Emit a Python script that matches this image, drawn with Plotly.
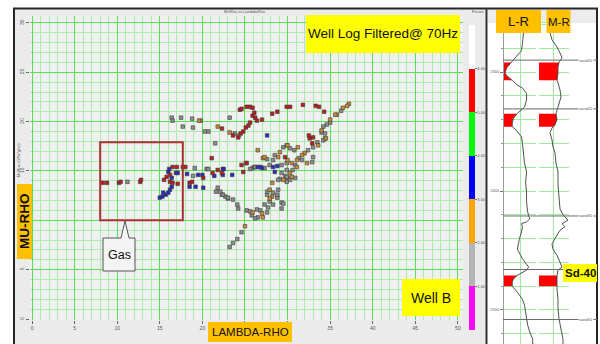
import plotly.graph_objects as go

W, H = 600, 344

# ---------------- Crossplot samples (LambdaRho, MuRho), grouped by facies ----------------
red_lr = [8.3, 8.8, 10.2, 10.4, 12.7, 12.8, 15.5, 15.8, 16.5, 17.0, 17.7, 16.2, 16.2, 16.5, 17.1,
          18.5, 18.8, 20.1, 21.2, 21.8, 22.3, 21.1, 18.0, 22.3, 23.6, 24.2, 24.8, 24.5, 25.1, 25.4,
          25.6, 24.4, 24.6, 25.2, 25.6, 25.9, 26.1, 25.9, 26.2, 26.4, 27.0, 28.2, 28.8, 29.9, 30.3,
          31.8, 33.3, 33.7, 34.3, 32.9, 32.6, 33.0, 32.5, 29.7, 24.6, 24.8, 25.2]
red_mr = [13.8, 13.8, 13.8, 13.9, 13.9, 14.1, 14.1, 14.4, 15.4, 15.4, 15.4, 14.6, 13.9, 13.8, 13.7,
          13.8, 13.9, 14.3, 14.8, 15.1, 14.8, 16.3, 15.4, 19.3, 18.6, 18.4, 19.0, 18.8, 19.4, 19.6,
          19.9, 21.2, 21.3, 21.5, 21.5, 21.4, 20.9, 20.6, 20.4, 20.1, 20.2, 20.8, 21.0, 21.5, 21.5,
          21.7, 21.6, 21.5, 21.0, 17.8, 18.3, 18.4, 18.6, 16.4, 15.6, 14.9, 15.8]

blue_lr = [16.0, 16.1, 16.4, 16.4, 16.2, 16.0, 15.7, 15.3, 15.4, 16.9, 17.1, 15.0, 18.5, 19.2, 20.1,
           18.2, 19.5, 20.0, 21.4, 22.4, 27.6, 28.8, 28.3, 28.5, 26.8, 22.5, 22.4, 23.5, 26.5, 27.0]
blue_mr = [14.9, 15.2, 14.3, 13.4, 13.1, 12.8, 12.6, 12.4, 12.8, 14.8, 14.8, 12.3, 13.4, 13.4, 13.3,
           14.7, 14.6, 14.6, 14.5, 15.2, 18.6, 15.5, 15.4, 14.9, 15.4, 15.2, 14.6, 14.6, 15.4, 15.3]

orange_lr = [19.6, 21.8, 23.2, 24.3, 37.2, 37.0, 36.5, 35.8, 35.6, 35.0, 34.0, 34.5, 33.6, 32.0, 31.7,
             31.1, 32.3, 30.5, 31.2, 30.0, 29.1, 28.9, 30.0, 27.1, 26.5, 27.3, 30.3, 29.5, 30.5, 31.1,
             25.9, 27.0, 27.1, 28.2, 27.9, 28.2, 25.0, 27.9]
orange_mr = [20.1, 19.5, 18.9, 18.6, 21.8, 21.6, 21.4, 20.7, 20.7, 20.2, 19.1, 18.3, 17.6, 16.8, 16.6,
             16.1, 15.8, 15.8, 17.4, 17.6, 16.9, 16.4, 16.1, 16.3, 17.1, 16.4, 14.8, 14.1, 14.4, 15.4,
             10.8, 10.7, 10.3, 12.4, 13.1, 13.8, 9.4, 12.2]

gray_lr = [11.2, 18.9, 20.5, 21.6, 21.8, 22.3, 22.7, 23.0, 21.5, 19.1, 20.7, 16.4, 16.5, 17.5, 17.7,
           18.8, 18.9, 19.8, 20.3, 20.7, 23.2, 23.8, 36.3, 35.0, 34.6, 34.2, 34.0, 34.4, 34.4, 34.2,
           33.5, 33.0, 32.4, 31.3, 31.7, 32.9, 33.0, 30.9, 30.8, 30.3, 29.5, 29.9, 28.5, 28.3, 29.9,
           29.3, 27.9, 27.3, 25.9, 27.6, 25.1, 25.6, 26.1, 26.2, 29.9, 29.7, 30.0, 29.9, 30.3, 29.3,
           29.1, 30.6, 30.9, 22.1, 22.4, 23.0, 23.6, 24.1, 24.2, 25.2, 25.6, 26.4, 26.8, 26.5, 26.2,
           25.8, 27.6, 27.7, 27.9, 28.3, 27.3, 28.3, 28.8, 28.9, 29.3, 29.3, 28.9, 23.2, 23.6, 24.1,
           24.6, 27.6, 28.8, 29.5, 27.6, 29.9]
gray_mr = [13.9, 14.5, 15.2, 12.9, 13.3, 12.6, 12.4, 12.2, 17.8, 15.3, 15.2, 20.4, 20.1, 20.4, 19.5,
           20.3, 19.4, 20.1, 19.0, 19.0, 20.4, 18.8, 21.1, 19.9, 19.7, 19.5, 18.9, 18.8, 18.3, 18.1,
           17.9, 17.4, 17.1, 16.3, 16.1, 15.9, 16.4, 15.6, 17.1, 17.3, 17.4, 17.6, 16.6, 16.1, 15.8,
           15.6, 15.6, 15.3, 15.3, 16.2, 15.8, 15.2, 15.4, 15.4, 15.1, 14.5, 14.3, 13.9, 14.1, 14.8,
           14.2, 15.1, 14.3, 12.9, 12.6, 12.3, 12.1, 11.6, 11.2, 11.0, 10.9, 11.1, 11.0, 10.3, 10.2,
           10.5, 10.8, 11.3, 11.9, 12.8, 11.6, 11.6, 12.3, 13.1, 11.8, 11.2, 14.1, 7.3, 7.7, 8.1,
           8.8, 12.6, 12.6, 11.7, 12.9, 14.4]

# (LambdaRho, MuRho, facies code, marker colour)
facies_groups = [
    (gray_lr, gray_mr, 1.5, "#8e8e8e"),
    (orange_lr, orange_mr, 2.5, "#cc8a2e"),
    (blue_lr, blue_mr, 3.5, "#2a2ac4"),
    (red_lr, red_mr, 5.5, "#bf1c1c"),
]

# Colour bar classes (0-1 ... 6-7)
facies_ticks = [1, 2, 3, 4, 5, 6]
facies_colors = ["#ff00ff", "#b4b4b4", "#ffa500", "#0000ff", "#00ff00", "#ff0000", "#ffffff"]

# Gas window on the crossplot (LambdaRho / MuRho limits)
gas_window = {"x0": 8.0, "x1": 17.7, "y0": 10.0, "y1": 17.9}

x_ticks = [0, 5, 10, 15, 20, 25, 30, 35, 40, 45, 50]
y_ticks = [0, 5, 10, 15, 20, 25, 30]
x_hidden = [25, 30]   # tick labels sitting under the LAMBDA-RHO tag
y_hidden = [10]       # tick label sitting under the MU-RHO tag

# ---------------- Well B logs ----------------
lr_depth = [2259, 2267, 2276, 2282, 2287, 2292, 2296, 2300, 2302.5, 2307, 2311, 2313.5, 2318, 2323.5,
            2329.5, 2335, 2339, 2343, 2346, 2349, 2354.5, 2360, 2368, 2376.5, 2384, 2392.5, 2401,
            2409, 2417.5, 2423.5, 2426, 2427.5, 2430, 2434.5, 2440, 2449, 2457, 2464, 2466.5, 2471,
            2474, 2476.5, 2480, 2485, 2491, 2496, 2501.5, 2507.5, 2512.5, 2518.5, 2524.5, 2529]
lr_value = [29.0, 28.8, 27.5, 26.3, 20.0, 13.8, 8.8, 6.3, 7.5, 15.0, 21.3, 27.5, 32.5, 32.5,
            30.0, 21.0, 16.3, 15.0, 15.0, 20.0, 26.3, 27.5, 28.8, 30.0, 32.5, 31.3, 32.5,
            32.5, 33.8, 36.3, 32.5, 26.3, 27.5, 26.3, 23.8, 21.3, 27.5, 35.0, 32.5, 21.0,
            16.5, 15.0, 15.0, 21.3, 27.5, 30.0, 31.3, 32.5, 33.8, 36.3, 40.0, 40.0]

mr_depth = [2259, 2267, 2273, 2279, 2284, 2288, 2292, 2296, 2301, 2307, 2309, 2315, 2321, 2326, 2332,
            2335, 2340, 2344.5, 2346, 2347, 2351, 2357, 2363, 2368, 2376.5, 2384, 2395, 2406.5, 2415,
            2420, 2424.5, 2426, 2427.5, 2430, 2433, 2440, 2444.5, 2449, 2454, 2460, 2464, 2466.5,
            2471, 2476.5, 2480, 2482.5, 2491, 2499, 2507.5, 2516, 2524.5, 2529]
mr_value = [15.0, 16.0, 18.0, 23.0, 26.0, 28.0, 25.0, 24.0, 24.0, 23.0, 24.0, 26.0, 27.0, 25.0, 23.0,
            22.0, 23.0, 21.0, 19.5, 18.0, 16.0, 18.0, 19.0, 21.0, 22.0, 24.0, 24.0, 25.0, 26.0,
            29.0, 34.0, 31.0, 28.0, 31.0, 26.0, 21.0, 18.0, 19.0, 23.0, 26.0, 28.0, 24.0,
            23.0, 23.0, 23.0, 23.0, 24.0, 24.0, 25.0, 27.0, 29.0, 29.0]

tops_name = ["sand10", "sand20", "sand30", "sand40", "sand50"]
tops_depth = [2290, 2331, 2421, 2466, 2508]

sand_top = [2292, 2335, 2471]
sand_base = [2307, 2346, 2480]

depth_ticks = [2300, 2400, 2500]

LR_MIN, LR_MAX = 5, 44
MR_MIN, MR_MAX = 5, 35


def px(x):
    return x / W


def py(y):
    return 1 - y / H


FONT = "Liberation Sans, Arial, sans-serif"
MAJOR_GRID = "#55e055"
MINOR_GRID = "#aaecaa"
TRACK_GRID = "#a2eaa2"

fig = go.Figure()

# crossplot points
for lr, mr, code, colour in facies_groups:
    fig.add_trace(go.Scatter(
        x=lr, y=mr, mode="markers", xaxis="x", yaxis="y",
        marker=dict(color=colour, symbol="square", size=3.6,
                    line=dict(width=0.6, color="#3c3c3c")),
        customdata=[code] * len(lr), hoverinfo="skip"))

# carrier for the facies colour bar
fig.add_trace(go.Scatter(x=[None], y=[None], mode="markers", xaxis="x", yaxis="y",
                         marker=dict(color=[facies_ticks[0]], coloraxis="coloraxis"),
                         hoverinfo="skip"))

# sand fills on both tracks
for top, base in zip(sand_top, sand_base):
    for depth, value, lo, xa, ya in ((lr_depth, lr_value, LR_MIN, "x2", "y2"),
                                      (mr_depth, mr_value, MR_MIN, "x3", "y3")):
        seg = [(d, v) for d, v in zip(depth, value) if top <= d <= base]
        xs = [lo] + [v for _, v in seg] + [lo]
        ys = [top] + [d for d, _ in seg] + [base]
        fig.add_trace(go.Scatter(x=xs, y=ys, mode="lines", fill="toself", fillcolor="#ff0000",
                                 line=dict(width=0, color="#ff0000"), xaxis=xa, yaxis=ya,
                                 hoverinfo="skip"))

# log curves
fig.add_trace(go.Scatter(x=lr_value, y=lr_depth, mode="lines", xaxis="x2", yaxis="y2",
                         line=dict(color="#505050", width=1), hoverinfo="skip"))
fig.add_trace(go.Scatter(x=mr_value, y=mr_depth, mode="lines", xaxis="x3", yaxis="y3",
                         line=dict(color="#505050", width=1), hoverinfo="skip"))

colorscale = []
for i, c in enumerate(facies_colors):
    colorscale.append([i / len(facies_colors), c])
    colorscale.append([(i + 1) / len(facies_colors), c])

tiny = dict(family=FONT, size=4, color="#555555")

shapes = [
    # left panel and plot area backgrounds
    dict(type="rect", xref="paper", yref="paper", x0=px(14), x1=px(486), y0=py(344), y1=py(8),
         fillcolor="#ebebeb", line=dict(width=0), layer="below"),
    dict(type="rect", xref="paper", yref="paper", x0=px(30), x1=px(463), y0=py(320), y1=py(16),
         fillcolor="#f0f0f0", line=dict(width=0), layer="below"),
    # log header band
    dict(type="rect", xref="paper", yref="paper", x0=px(488), x1=px(597), y0=py(23), y1=py(9),
         fillcolor="#ececec", line=dict(width=0), layer="below"),
    # outer frame and divider
    dict(type="rect", xref="paper", yref="paper", x0=px(14), x1=px(597), y0=py(352), y1=py(8.5),
         line=dict(color="#262626", width=2)),
    dict(type="line", xref="paper", yref="paper", x0=px(486.5), x1=px(486.5), y0=py(344), y1=py(8),
         line=dict(color="#333333", width=2)),
    # gas window
    dict(type="rect", xref="x", yref="y", x0=gas_window["x0"], x1=gas_window["x1"],
         y0=gas_window["y0"], y1=gas_window["y1"], line=dict(color="#a83232", width=2)),
    # Gas callout with pointer
    dict(type="path", xref="paper", yref="paper",
         path=f"M {px(103)} {py(238)} L {px(121)} {py(238)} L {px(125)} {py(221)} L {px(129)} {py(238)} "
              f"L {px(135)} {py(238)} L {px(135)} {py(271)} L {px(103)} {py(271)} Z",
         fillcolor="#f4f4f4", line=dict(color="#555555", width=1)),
]

# formation tops across the log tracks
for name, d in zip(tops_name, tops_depth):
    shapes.append(dict(type="line", xref="paper", yref="y2", x0=px(503), x1=px(597), y0=d, y1=d,
                       line=dict(color="#6a6a6a", width=1)))

# labelled boxes: text, centre x/y, width, height, fill, font size, angle
label_boxes = [
    ("Well Log Filtered@ 70Hz", 383, 34, 154, 38, "#ffff00", 13.5, 0),
    ("Well B", 431, 297.5, 58, 37, "#ffff00", 14, 0),
    ("<b>MU-RHO</b>", 24.5, 221.5, 15, 75, "#ffc000", 13.5, -90),
    ("LAMBDA-RHO", 250, 332, 84, 20, "#ffc000", 11.5, 0),
    ("L-R", 518.5, 21.5, 45, 23, "#ffc000", 13, 0),
    ("M-R", 558.5, 21.5, 24, 23, "#ffc000", 11.5, 0),
    ("<b>Sd-40</b>", 580, 273, 34, 18, "#ffff00", 11.5, 0),
]

annotations = []
for text, cx, cy, bw, bh, fill, size, angle in label_boxes:
    shapes.append(dict(type="rect", xref="paper", yref="paper",
                       x0=px(cx - bw / 2), x1=px(cx + bw / 2), y0=py(cy + bh / 2), y1=py(cy - bh / 2),
                       fillcolor=fill, line=dict(width=0), layer="above"))
    annotations.append(dict(text=text, xref="paper", yref="paper", x=px(cx), y=py(cy),
                            xanchor="center", yanchor="middle", textangle=angle, showarrow=False,
                            font=dict(family=FONT, size=size, color="#111111")))

annotations += [
    dict(text="Gas", xref="paper", yref="paper", x=px(119), y=py(255), xanchor="center",
         yanchor="middle", showarrow=False, font=dict(family=FONT, size=12.5, color="#111111")),
    dict(text="MuRho vs LambdaRho", xref="paper", yref="paper", x=px(245), y=py(11),
         xanchor="center", yanchor="middle", showarrow=False, font=tiny),
    dict(text="MuRho (GPa*g/cc)", xref="paper", yref="paper", x=px(19), y=py(160), textangle=-90,
         xanchor="center", yanchor="middle", showarrow=False, font=tiny),
    dict(text="Facies", xref="paper", yref="paper", x=px(478), y=py(11),
         xanchor="center", yanchor="middle", showarrow=False, font=tiny),
]
for name, d in zip(tops_name, tops_depth):
    if name == "sand40":
        continue
    annotations.append(dict(text=name, xref="paper", yref="y2", x=px(586), y=d, showarrow=False,
                            xanchor="center", yanchor="middle",
                            bgcolor="#ffffff", borderpad=0, font=tiny))

axis_font = dict(family=FONT, size=5, color="#555555")

fig.update_layout(
    width=W, height=H, margin=dict(l=0, r=0, t=0, b=0),
    paper_bgcolor="#ffffff", plot_bgcolor="rgba(0,0,0,0)", showlegend=False,
    coloraxis=dict(
        cmin=0, cmax=len(facies_colors), colorscale=colorscale,
        colorbar=dict(x=px(469), xanchor="left", y=py(177.5), yanchor="middle",
                      len=305 / H, lenmode="fraction", thickness=6, thicknessmode="pixels",
                      outlinewidth=0, xpad=0, ypad=0,
                      tickvals=facies_ticks, ticktext=[f"{v:.2f}" for v in facies_ticks],
                      ticks="outside", ticklen=2, tickcolor="#777777",
                      tickfont=dict(family=FONT, size=4, color="#555555"))),
    xaxis=dict(domain=[px(30), px(463)], range=[-0.24, 50.6], anchor="y",
               tickvals=x_ticks, ticktext=["" if v in x_hidden else str(v) for v in x_ticks],
               showgrid=True, gridcolor=MAJOR_GRID, gridwidth=1,
               zeroline=False, showline=False, ticks="outside", ticklen=3, tickcolor="#666666",
               tickfont=axis_font,
               minor=dict(dtick=1, tick0=0, showgrid=True, gridcolor=MINOR_GRID, gridwidth=1)),
    yaxis=dict(domain=[py(320), py(16)], range=[-0.1, 30.7], anchor="x",
               tickvals=y_ticks, ticktext=["" if v in y_hidden else str(v) for v in y_ticks],
               showgrid=True, gridcolor=MAJOR_GRID, gridwidth=1,
               zeroline=False, showline=False, ticks="outside", ticklen=3, tickcolor="#666666",
               tickangle=-90, tickfont=axis_font,
               minor=dict(dtick=1, tick0=0, showgrid=True, gridcolor=MINOR_GRID, gridwidth=1)),
    xaxis2=dict(domain=[px(504), px(536)], range=[LR_MIN, LR_MAX], anchor="y2",
                tickvals=[25], showticklabels=False, ticks="", showgrid=True, gridcolor=TRACK_GRID,
                zeroline=False, showline=True, linecolor=TRACK_GRID, mirror=True),
    yaxis2=dict(domain=[0, py(23)], range=[2528.6, 2258.8], anchor="x2",
                tickvals=depth_ticks, ticktext=[str(v) for v in depth_ticks],
                ticks="outside", ticklen=3, tickcolor="#777777",
                tickfont=dict(family=FONT, size=4, color="#555555"),
                showgrid=True, gridcolor=TRACK_GRID, zeroline=False,
                showline=True, linecolor="#9a9a9a",
                minor=dict(dtick=20, tick0=2300, showgrid=True, gridcolor=TRACK_GRID,
                           ticks="outside", ticklen=2, tickcolor="#999999")),
    xaxis3=dict(domain=[px(539), px(569)], range=[MR_MIN, MR_MAX], anchor="y3",
                tickvals=[19], showticklabels=False, ticks="", showgrid=True, gridcolor=TRACK_GRID,
                zeroline=False, showline=True, linecolor=TRACK_GRID, mirror=True),
    yaxis3=dict(domain=[0, py(23)], range=[2528.6, 2258.8], anchor="x3", matches="y2",
                tickvals=depth_ticks, showticklabels=False, ticks="",
                showgrid=True, gridcolor=TRACK_GRID, zeroline=False, showline=False,
                minor=dict(dtick=20, tick0=2300, showgrid=True, gridcolor=TRACK_GRID)),
    shapes=shapes,
    annotations=annotations,
)

fig.write_html("out.html")
